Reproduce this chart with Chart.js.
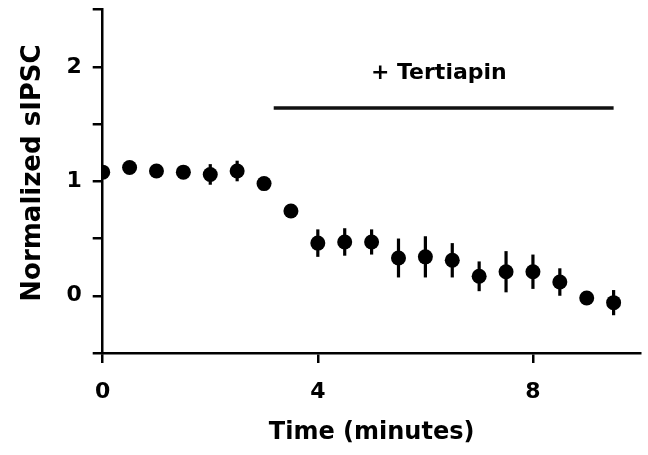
<!DOCTYPE html>
<html>
<head>
<meta charset="utf-8">
<script src="https://cdn.jsdelivr.net/npm/chart.js@4.4.1/dist/chart.umd.min.js"></script>
<style>
  html, body { margin: 0; padding: 0; background: #fff; }
  #wrap { width: 648px; height: 455px; }
</style>
</head>
<body>
<div id="wrap"><canvas id="sipscChart" width="648" height="455"></canvas></div>
<script>
// time points (minutes), normalized sIPSC mean and error
const times = [0, 0.5, 1, 1.5, 2, 2.5, 3, 3.5, 4, 4.5, 5, 5.5, 6, 6.5, 7, 7.5, 8, 8.5, 9, 9.5];
const means = [1.08, 1.12, 1.09, 1.08, 1.06, 1.09, 0.98, 0.74, 0.46, 0.47, 0.47, 0.33, 0.34, 0.31, 0.17, 0.21, 0.21, 0.12, -0.02, -0.06];
const errors = [0.04, 0.04, 0.04, 0.04, 0.09, 0.09, 0.04, 0.04, 0.12, 0.12, 0.11, 0.17, 0.18, 0.15, 0.13, 0.18, 0.15, 0.12, 0.05, 0.11];

const xTicks = [0, 4, 8];
const xLabels = ["0", "4", "8"];
const yTicks = [-0.5, 0, 0.5, 1, 1.5, 2, 2.5];
const yLabels = ["", "0", "", "1", "", "2", ""];

// drug application bar
const drugLabel = "+ Tertiapin";
const drugStart = 3.18;
const drugEnd = 9.5;
const drugLevel = 1.64;
const drugTextPos = [6.25, 1.94];

const titleFont = "'DejaVu Sans', sans-serif";
const tickFont = { family: titleFont, size: 22, weight: "bold" };

const errorBars = {
    id: "errorBars",
    beforeDatasetsDraw(chart) {
        const ctx = chart.ctx;
        const x = chart.scales.x, y = chart.scales.y;
        ctx.save();
        ctx.strokeStyle = "#000";
        ctx.lineWidth = 3.2;
        times.forEach((t, i) => {
            const px = x.getPixelForValue(t);
            ctx.beginPath();
            ctx.moveTo(px, y.getPixelForValue(means[i] - errors[i]));
            ctx.lineTo(px, y.getPixelForValue(means[i] + errors[i]));
            ctx.stroke();
        });
        ctx.restore();
    },
    afterDraw(chart) {
        const ctx = chart.ctx;
        const x = chart.scales.x, y = chart.scales.y;
        ctx.save();
        ctx.fillStyle = "#000";
        ctx.textAlign = "center";
        ctx.textBaseline = "middle";
        ctx.font = "bold 22px " + titleFont;
        ctx.fillText(drugLabel, x.getPixelForValue(drugTextPos[0]), y.getPixelForValue(drugTextPos[1]));
        // y axis title
        ctx.translate(33.5, 173);
        ctx.rotate(-Math.PI / 2);
        ctx.font = "bold 26px " + titleFont;
        ctx.fillText("Normalized sIPSC", 0, 0);
        ctx.restore();
    }
};

new Chart(document.getElementById("sipscChart").getContext("2d"), {
    type: "scatter",
    data: {
        datasets: [{
            data: times.map((t, i) => ({ x: t, y: means[i] })),
            backgroundColor: "#000",
            borderColor: "#000",
            pointRadius: 7.5,
            pointBorderWidth: 0
        }, {
            type: "line",
            data: [{ x: drugStart, y: drugLevel }, { x: drugEnd, y: drugLevel }],
            borderColor: "#111",
            borderWidth: 3.5,
            pointRadius: 0,
            fill: false
        }]
    },
    options: {
        responsive: false,
        animation: false,
        layout: { padding: { top: 9.6, right: 3.4, left: 0, bottom: 0 } },
        plugins: { legend: { display: false }, tooltip: { enabled: false } },
        scales: {
            x: {
                type: "linear",
                min: 0,
                max: 10,
                afterBuildTicks: scale => { scale.ticks = xTicks.map(v => ({ value: v })); },
                afterFit: scale => { scale.height = 102; scale.paddingLeft = 0; scale.paddingRight = 0; },
                grid: { display: true, drawOnChartArea: false, drawTicks: true, tickLength: 10, color: "#000", lineWidth: 2.5 },
                border: { display: true, color: "#000", width: 2.5 },
                ticks: {
                    color: "#000",
                    font: tickFont,
                    padding: 16,
                    maxRotation: 0,
                    callback: (v, i) => xLabels[i]
                },
                title: {
                    display: true,
                    text: "Time (minutes)",
                    color: "#000",
                    font: { family: titleFont, size: 24, weight: "bold" },
                    padding: { top: 0, bottom: 8 }
                }
            },
            y: {
                type: "linear",
                min: -0.5,
                max: 2.5,
                afterBuildTicks: scale => { scale.ticks = yTicks.map(v => ({ value: v })); },
                afterFit: scale => { scale.width = 102.7; scale.paddingTop = 0; scale.paddingBottom = 0; },
                grid: { display: true, drawOnChartArea: false, drawTicks: true, tickLength: 10, color: "#000", lineWidth: 2.5 },
                border: { display: true, color: "#000", width: 2.5 },
                ticks: {
                    color: "#000",
                    font: tickFont,
                    padding: 11,
                    callback: (v, i) => yLabels[i]
                }
            }
        }
    },
    plugins: [errorBars]
});
</script>
</body>
</html>
